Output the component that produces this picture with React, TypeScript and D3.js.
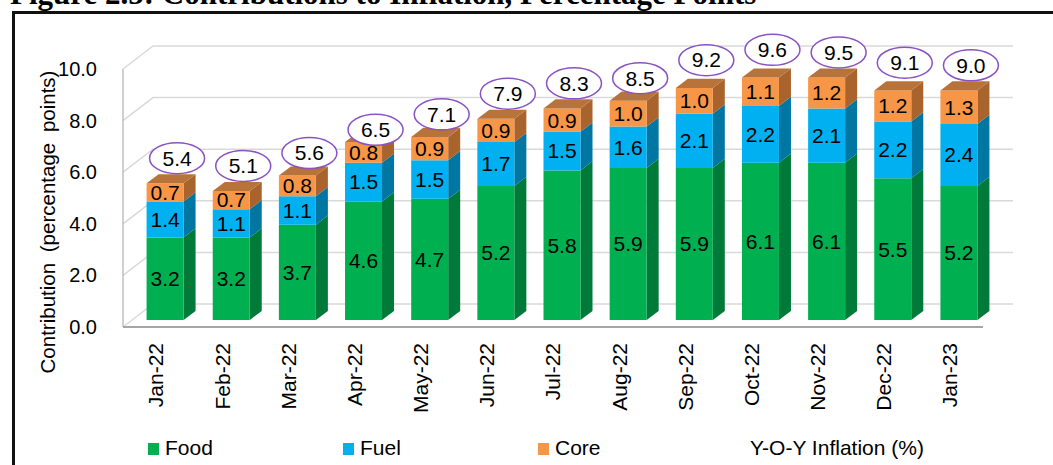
import React from "react";
import * as d3 from "d3";

const W = 1053;
const H = 465;

const months = ["Jan-22", "Feb-22", "Mar-22", "Apr-22", "May-22", "Jun-22", "Jul-22", "Aug-22", "Sep-22", "Oct-22", "Nov-22", "Dec-22", "Jan-23"];
const food = [3.2, 3.2, 3.7, 4.6, 4.7, 5.2, 5.8, 5.9, 5.9, 6.1, 6.1, 5.5, 5.2];
const fuel = [1.4, 1.1, 1.1, 1.5, 1.5, 1.7, 1.5, 1.6, 2.1, 2.2, 2.1, 2.2, 2.4];
const core = [0.7, 0.7, 0.8, 0.8, 0.9, 0.9, 0.9, 1.0, 1.0, 1.1, 1.2, 1.2, 1.3];
const yoy = [5.4, 5.1, 5.6, 6.5, 7.1, 7.9, 8.3, 8.5, 9.2, 9.6, 9.5, 9.1, 9.0];
const yTicks = [0, 2, 4, 6, 8, 10];

const seriesNames = ["Food", "Fuel", "Core"];
const front = ["#00B050", "#00B0F0", "#F79646"];
const side = ["#007A38", "#0076A2", "#A9632D"];
const topFace = "#B8733A";
const ovalColor = "#8A52C2";

const FONT = "'Liberation Sans', Arial, sans-serif";

// 3d depth of the plot box (back wall offset)
const DX = 30;
const DY = -23;
const barDepth0 = 0.3;
const barDepth1 = 0.7;
const BAR_W = 37;

const x = d3.scaleBand<string>().domain(months).range([123, 983]).padding(0);
const y = d3.scaleLinear().domain([0, 10]).range([327, 69]);

const pt = (px: number, v: number, depth: number): [number, number] => [px + DX * depth, y(v) + DY * depth];
const poly = (pts: [number, number][]) => "M" + pts.map((p) => p.join(",")).join("L") + "Z";

const fmt = d3.format(".1f");

export default function App() {
  const rows = months.map((m, i) => {
    const vals = [food[i], fuel[i], core[i]];
    const stack: { lo: number; hi: number; v: number; k: number }[] = [];
    let acc = 0;
    vals.forEach((v, k) => {
      stack.push({ lo: acc, hi: acc + v, v, k });
      acc += v;
    });
    return { m, i, stack, total: acc };
  });

  const xl = (m: string) => (x(m) as number) + x.bandwidth() / 2 - BAR_W / 2;

  return (
    <svg width={W} height={H} style={{ position: "absolute", left: 0, top: 0, background: "#fff" }}>
      <text x={10} y={4} fontFamily="'Liberation Serif', 'Times New Roman', serif" fontWeight="bold" fontSize={31}>
        Figure 2.5: Contributions to Inflation, Percentage Points
      </text>
      <path d={`M13.5,${H + 2}V12.5H${W + 2}`} fill="none" stroke="#111" strokeWidth={3} />

      {/* walls */}
      <g fill="none">
        {yTicks.map((t) => {
          const a = pt(123, t, 0);
          const b = pt(123, t, 1);
          const c = pt(983, t, 1);
          return <path key={t} d={`M${a}L${b}L${c}`} stroke="#D9D9D9" strokeWidth={1.5} />;
        })}
        <line x1={123} x2={123} y1={y(0)} y2={y(10)} stroke="#BFBFBF" strokeWidth={1.5} />
        <line x1={123} x2={983} y1={y(0)} y2={y(0)} stroke="#A6A6A6" strokeWidth={2} />
      </g>

      {/* y axis */}
      <g fontFamily={FONT} fontSize={20} textAnchor="end">
        {yTicks.map((t) => (
          <text key={t} x={97} y={y(t)} dy="0.35em">
            {fmt(t)}
          </text>
        ))}
      </g>
      <text
        transform="translate(55,222) rotate(-90)"
        textAnchor="middle"
        fontFamily={FONT}
        fontSize={20.5}
        wordSpacing={5}
      >
        Contribution (percentage points)
      </text>

      {/* bars */}
      {rows.map((r) => {
        const x0 = xl(r.m);
        const x1 = x0 + BAR_W;
        return (
          <g key={r.m}>
            {r.stack.map((s) => {
              const fr = poly([pt(x0, s.lo, barDepth0), pt(x1, s.lo, barDepth0), pt(x1, s.hi, barDepth0), pt(x0, s.hi, barDepth0)]);
              const sd = poly([pt(x1, s.lo, barDepth0), pt(x1, s.lo, barDepth1), pt(x1, s.hi, barDepth1), pt(x1, s.hi, barDepth0)]);
              return (
                <g key={s.k}>
                  <path d={sd} fill={side[s.k]} />
                  <path d={fr} fill={front[s.k]} />
                </g>
              );
            })}
            <path
              d={poly([pt(x0, r.total, barDepth0), pt(x1, r.total, barDepth0), pt(x1, r.total, barDepth1), pt(x0, r.total, barDepth1)])}
              fill={topFace}
            />
            <g fontFamily={FONT} fontSize={21} textAnchor="middle">
              {r.stack.map((s) => {
                const [cx, cy] = pt(x0 + BAR_W / 2, (s.lo + s.hi) / 2, barDepth0);
                return (
                  <text key={s.k} x={cx} y={cy} dy="0.35em">
                    {fmt(s.v)}
                  </text>
                );
              })}
            </g>
          </g>
        );
      })}

      {/* Y-O-Y labels */}
      {rows.map((r) => {
        const [cx, cy] = pt(xl(r.m) + BAR_W / 2 + 6, yoy[r.i], 0.5);
        const oy = cy - 18;
        return (
          <g key={r.m}>
            <ellipse cx={cx} cy={oy} rx={27.5} ry={15.5} fill="#fff" stroke={ovalColor} strokeWidth={1.5} />
            <text x={cx} y={oy} dy="0.35em" textAnchor="middle" fontFamily={FONT} fontSize={21}>
              {fmt(yoy[r.i])}
            </text>
          </g>
        );
      })}

      {/* x labels */}
      <g fontFamily={FONT} fontSize={21} textAnchor="end">
        {months.map((m) => (
          <text key={m} transform={`translate(${(x(m) as number) + x.bandwidth() / 2},343) rotate(-90)`} dy="0.35em">
            {m}
          </text>
        ))}
      </g>

      {/* legend */}
      <g fontFamily={FONT} fontSize={21}>
        {seriesNames.map((n, k) => {
          const lx = 148 + k * 195;
          return (
            <g key={n} transform={`translate(${lx},443)`}>
              <rect width={11} height={12} fill={front[k]} />
              <text x={17} y={12}>
                {n}
              </text>
            </g>
          );
        })}
        <text x={750} y={455}>
          Y-O-Y Inflation (%)
        </text>
      </g>
    </svg>
  );
}
